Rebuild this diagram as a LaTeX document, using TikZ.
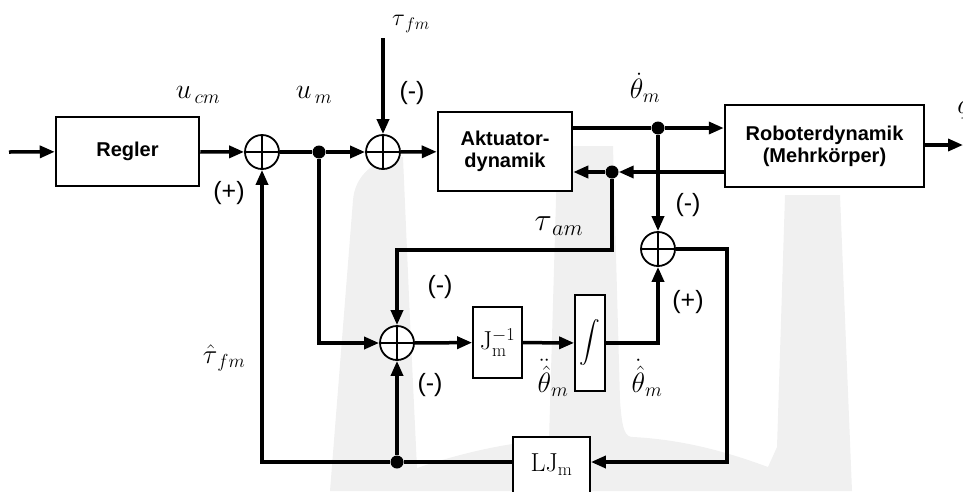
\RequirePackage{fix-cm}
\documentclass[tikz,border=0pt]{standalone}
\usepackage{exscale}
\usepackage[no-math]{fontspec}
\setmainfont{Liberation Sans}
\usetikzlibrary{arrows.meta}

\begin{document}
\begin{tikzpicture}[x=1pt, y=-1pt, >={Triangle[length=15pt,width=12pt]}]
        \tikzset{
            block/.style={draw, line width=2.5pt, fill=white, align=center, font=\fontsize{20}{22}\selectfont\bfseries},
            sblock/.style={draw, line width=1.8pt, fill=white, inner sep=0pt, font=\fontsize{26}{28}\selectfont},
            sum/.style={draw, circle, line width=1.8pt, fill=white, minimum size=34pt, inner sep=0pt,
                path picture={\draw[line width=1.2pt] (path picture bounding box.north) -- (path picture bounding box.south)
                    (path picture bounding box.west) -- (path picture bounding box.east);}},
            dot/.style={circle, fill, inner sep=0pt, minimum size=13pt},
            line/.style={line width=3.5pt},
            arrow/.style={->, line width=3.5pt},
            lab/.style={font=\fontsize{28}{30}\selectfont, inner sep=0pt},
            sign/.style={font=\fontsize{25}{27}\selectfont, inner sep=0pt}
        }
        \useasboundingbox (0,0) rectangle (963,491);
        \clip (0,0) rectangle (963,491);

        % watermark in the background
        \fill[gray!12] (330,491) -- (353,200) .. controls (355,175) and (375,158) .. (403,157) -- (410,320) -- (417,468)
            .. controls (470,450) and (515,442) .. (549,440) -- (557,165) .. controls (558,150) and (565,146) .. (578,146)
            -- (613,146) -- (620,400) .. controls (622,430) and (625,437) .. (633,437)
            .. controls (690,440) and (735,455) .. (768,467) -- (777,447) -- (785,195) -- (840,195) -- (852,491) -- cycle;

        \node[block, minimum width=143pt, minimum height=69pt] (reg) at (127.5,151.5) {Regler};
        \node[block, minimum width=134pt, minimum height=79pt] (akt) at (505,151.5) {Aktuator-\\dynamik};
        \node[block, minimum width=199pt, minimum height=82pt] (rob) at (824.5,146) {Roboterdynamik\\(Mehrkörper)};
        \node[sblock, minimum width=49pt, minimum height=71pt] (jinv) at (497.5,342.5) {$\mathrm{J}_\mathrm{m}^{-1}$};
        \node[sblock, minimum width=30pt, minimum height=96pt, font=\fontsize{21}{24}\selectfont] (integ) at (590,343) {$\displaystyle\int$};
        \node[sblock, minimum width=77pt, minimum height=56pt] (lj) at (551.5,465) {$\mathrm{LJ}_\mathrm{m}$};

        \node[sum] (sum1) at (262,152) {};
        \node[sum] (sum2) at (383,152) {};
        \node[sum] (sum3) at (658,249) {};
        \node[sum] (sum4) at (397,343) {};

        \node[dot] (d1) at (319,152) {};
        \node[dot] (d2) at (658,128) {};
        \node[dot] (d3) at (612,172) {};
        \node[dot] (d4) at (397,462) {};

        \coordinate (inp) at (9,152);
        \coordinate (out) at (963,145);
        \coordinate (tfm) at (383,38);

        % signals
        \node[lab] (ucm) at (198,95) {$u_{\,cm}$};
        \node[lab] (um) at (314,95) {$u_{\,m}$};
        \node[lab, font=\fontsize{24}{26}\selectfont] (taufm) at (411,24) {$\tau_{\,fm}$};
        \node[lab] (thm) at (645,88) {$\dot\theta_m$};
        \node[lab] (q) at (964,110) {$q$};
        \node[lab, font=\fontsize{32}{34}\selectfont] (tauam) at (559,226) {$\tau_{\,am}$};
        \node[lab] (thdd) at (553,378) {$\ddot{\hat\theta}_m$};
        \node[lab] (thd) at (647,378) {$\dot{\hat\theta}_m$};
        \node[lab, font=\fontsize{27}{29}\selectfont] (taufmh) at (224,358) {$\hat\tau_{\,fm}$};

        % signs
        \node[sign] (s1) at (229,193) {(+)};
        \node[sign] (s2) at (412,93) {(-)};
        \node[sign] (s3) at (688,205) {(-)};
        \node[sign] (s4) at (688,302) {(+)};
        \node[sign] (s5) at (440,287) {(-)};
        \node[sign] (s6) at (430,385) {(-)};

        % forward path
        \draw[arrow] (inp) -- (reg);
        \draw[arrow] (reg) -- (sum1);
        \draw[line] (sum1) -- (d1);
        \draw[arrow] (d1) -- (sum2);
        \draw[arrow] (tfm) -- (sum2);
        \draw[arrow] (sum2) -- (akt);
        \draw[line] (akt.east |- d2) -- (d2);
        \draw[arrow] (d2) -- (rob.west |- d2);
        \draw[arrow] (rob.east |- out) -- (out);
        \draw[arrow] (rob.west |- d3) -- (d3);
        \draw[arrow] (d3) -- (akt.east |- d3);

        % observer
        \draw[arrow] (d2) -- (sum3);
        \draw[arrow] (d3) -- ++(0,78) -| (sum4);
        \draw[arrow] (d1) |- (sum4);
        \draw[arrow] (sum4) -- (jinv);
        \draw[arrow] (jinv) -- (integ);
        \draw[arrow] (integ) -| (sum3);
        \draw[arrow] (sum3) -- ++(69,0) |- (lj.east |- d4);
        \draw[line] (lj.west |- d4) -- (d4);
        \draw[arrow] (d4) -| (sum1);
        \draw[arrow] (d4) -- (sum4);
    \end{tikzpicture}
\end{document}
